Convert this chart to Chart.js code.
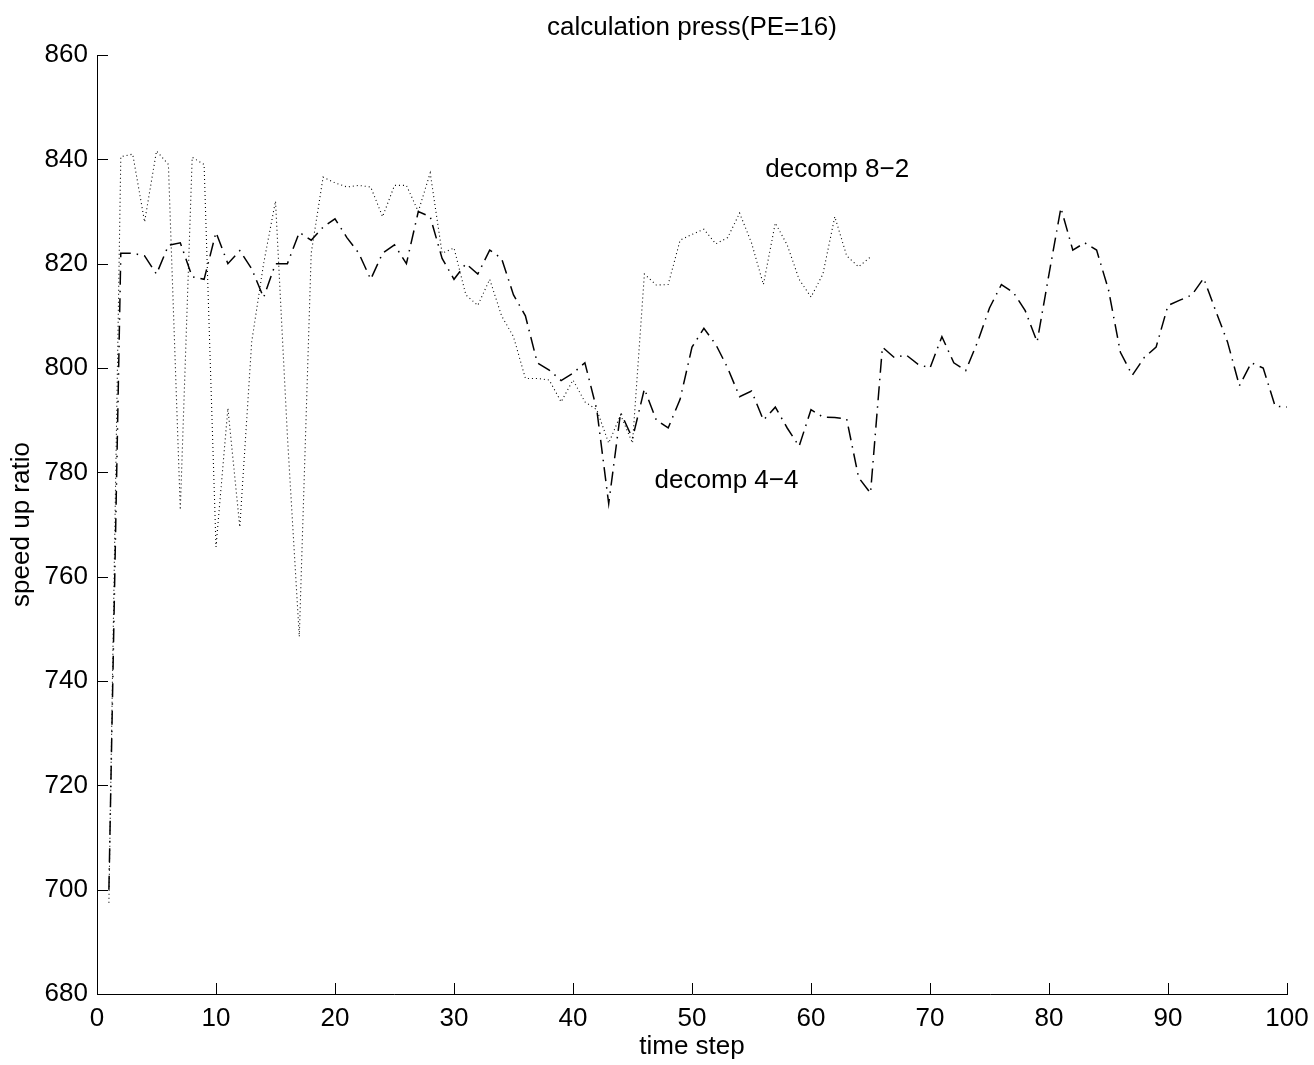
<!DOCTYPE html>
<html>
<head>
<meta charset="utf-8">
<script src="https://cdn.jsdelivr.net/npm/chart.js@4"></script>
<style>
  html, body { margin: 0; padding: 0; background: #fff; }
  #wrap { width: 1314px; height: 1065px; }
</style>
</head>
<body>
<div id="wrap"><canvas id="myCanvas"></canvas></div>
<script>
// values, one per time step
const steps44 = Array.from({ length: 100 }, (_, i) => i + 1);
const decomp44 = [
  700, 822, 822, 821.5, 818, 823.5, 824, 817.5, 817, 826,
  820, 822.5, 819, 813.5, 820, 820, 826, 824.5, 827, 828.6,
  825, 822, 817, 822, 823.6, 820, 830, 829, 821, 817,
  820, 818, 822.6, 821, 814, 810, 801, 799.6, 797.6, 799,
  801, 792, 774, 791.5, 786.5, 796, 790, 788.5, 794, 804,
  807.6, 804.5, 800, 794.5, 795.6, 790, 792.5, 788.5, 785, 792,
  790.6, 790.5, 790.2, 779, 776, 804, 802, 802.5, 800.7, 800,
  806, 801, 799.5, 805, 811.5, 816, 814.5, 811, 805, 818,
  830.7, 822.6, 824, 822.6, 815, 803, 798.6, 802, 804, 812,
  813, 814, 817.2, 811, 805, 796.6, 801, 800, 792.7, 792.5
];

const steps82 = Array.from({ length: 65 }, (_, i) => i + 1);
const decomp82 = [
  697.5, 840.5, 841, 828, 841.6, 839, 772.8, 840.4, 839, 765.7,
  792.3, 769.5, 805, 820, 832, 787, 748.5, 822, 836.6, 835.5,
  834.7, 835, 834.7, 829, 835, 835, 830, 837.4, 822, 823,
  814, 812, 817, 810, 806, 798, 798, 797.7, 793.5, 797.7,
  793.5, 792, 785.6, 791, 785.6, 818, 815.9, 816, 824.5, 825.6,
  826.6, 823.8, 825, 829.7, 824, 816, 827.8, 823.6, 817, 813.6,
  818, 829, 821.5, 819.4, 821.3
];

const xTicks = [0, 10, 20, 30, 40, 50, 60, 70, 80, 90, 100];
const yTicks = [680, 700, 720, 740, 760, 780, 800, 820, 840, 860];

const titleText = "calculation press(PE=16)";

// in-plot text labels (data coordinates)
const labelText = ["decomp 8\u22122", "decomp 4\u22124"];
const labelX = [62.2, 52.9];
const labelY = [837.9, 778.3];

const fontFamily = "'Liberation Sans', Arial, Helvetica, sans-serif";
Chart.defaults.color = "#000";
Chart.defaults.font.family = fontFamily;
Chart.defaults.font.size = 26;

function toPoints(xs, ys) {
  return xs.map((x, i) => ({ x: x, y: ys[i] }));
}

// ticks point into the plot, title over the plot centre, gtext style labels
const innerTicks = {
  id: "innerTicks",
  afterDatasetsDraw(chart) {
    const ctx = chart.ctx;
    const xs = chart.scales.x;
    const ys = chart.scales.y;
    const area = chart.chartArea;
    const len = 11;
    ctx.save();
    ctx.strokeStyle = "#000";
    ctx.lineWidth = 1;
    xTicks.forEach((v) => {
      const px = Math.round(xs.getPixelForValue(v)) + 0.5;
      ctx.beginPath();
      ctx.moveTo(px, area.bottom);
      ctx.lineTo(px, area.bottom - len);
      ctx.stroke();
    });
    yTicks.forEach((v) => {
      const py = Math.round(ys.getPixelForValue(v)) + 0.5;
      ctx.beginPath();
      ctx.moveTo(area.left, py);
      ctx.lineTo(area.left + len, py);
      ctx.stroke();
    });
    ctx.fillStyle = "#000";
    ctx.font = "26px " + fontFamily;
    ctx.textAlign = "center";
    ctx.textBaseline = "middle";
    ctx.fillText(titleText, (area.left + area.right) / 2, 28);
    labelText.forEach((t, i) => {
      ctx.fillText(t, xs.getPixelForValue(labelX[i]), ys.getPixelForValue(labelY[i]));
    });
    ctx.restore();
  }
};

const canvas = document.querySelector("#myCanvas");

const config = {
  type: "line",
  data: {
    datasets: [
      {
        label: "decomp 8-2",
        data: toPoints(steps82, decomp82),
        borderColor: "#000",
        borderWidth: 1.1,
        borderDash: [1, 3],
        pointRadius: 0,
        tension: 0,
        fill: false
      },
      {
        label: "decomp 4-4",
        data: toPoints(steps44, decomp44),
        borderColor: "#000",
        borderWidth: 1.5,
        borderDash: [14, 6, 1.5, 6],
        pointRadius: 0,
        tension: 0,
        fill: false
      }
    ]
  },
  options: {
    responsive: true,
    maintainAspectRatio: false,
    animation: false,
    layout: { padding: { left: 0, right: 27, top: 55, bottom: 0 } },
    plugins: {
      legend: { display: false },
      tooltip: { enabled: false },
      title: { display: false }
    },
    scales: {
      x: {
        type: "linear",
        min: 0,
        max: 100,
        grid: { display: false, drawTicks: false },
        border: { display: true, color: "#000", width: 1 },
        ticks: { stepSize: 10, padding: 9, maxRotation: 0, color: "#000" },
        title: { display: true, text: "time step", color: "#000", padding: { top: 0, bottom: 3 } },
        afterFit(scale) {
          scale.height = 71;
          scale.paddingLeft = 0;
          scale.paddingRight = 0;
        }
      },
      y: {
        min: 680,
        max: 860,
        grid: { display: false, drawTicks: false },
        border: { display: true, color: "#000", width: 1 },
        ticks: { stepSize: 20, padding: 9, color: "#000" },
        title: { display: true, text: "speed up ratio", color: "#000", padding: { top: 6, bottom: 0 } },
        afterFit(scale) {
          scale.width = 97;
          scale.paddingTop = 0;
          scale.paddingBottom = 0;
        }
      }
    }
  },
  plugins: [innerTicks]
};

const myChart = new Chart(canvas, config);
</script>
</body>
</html>
